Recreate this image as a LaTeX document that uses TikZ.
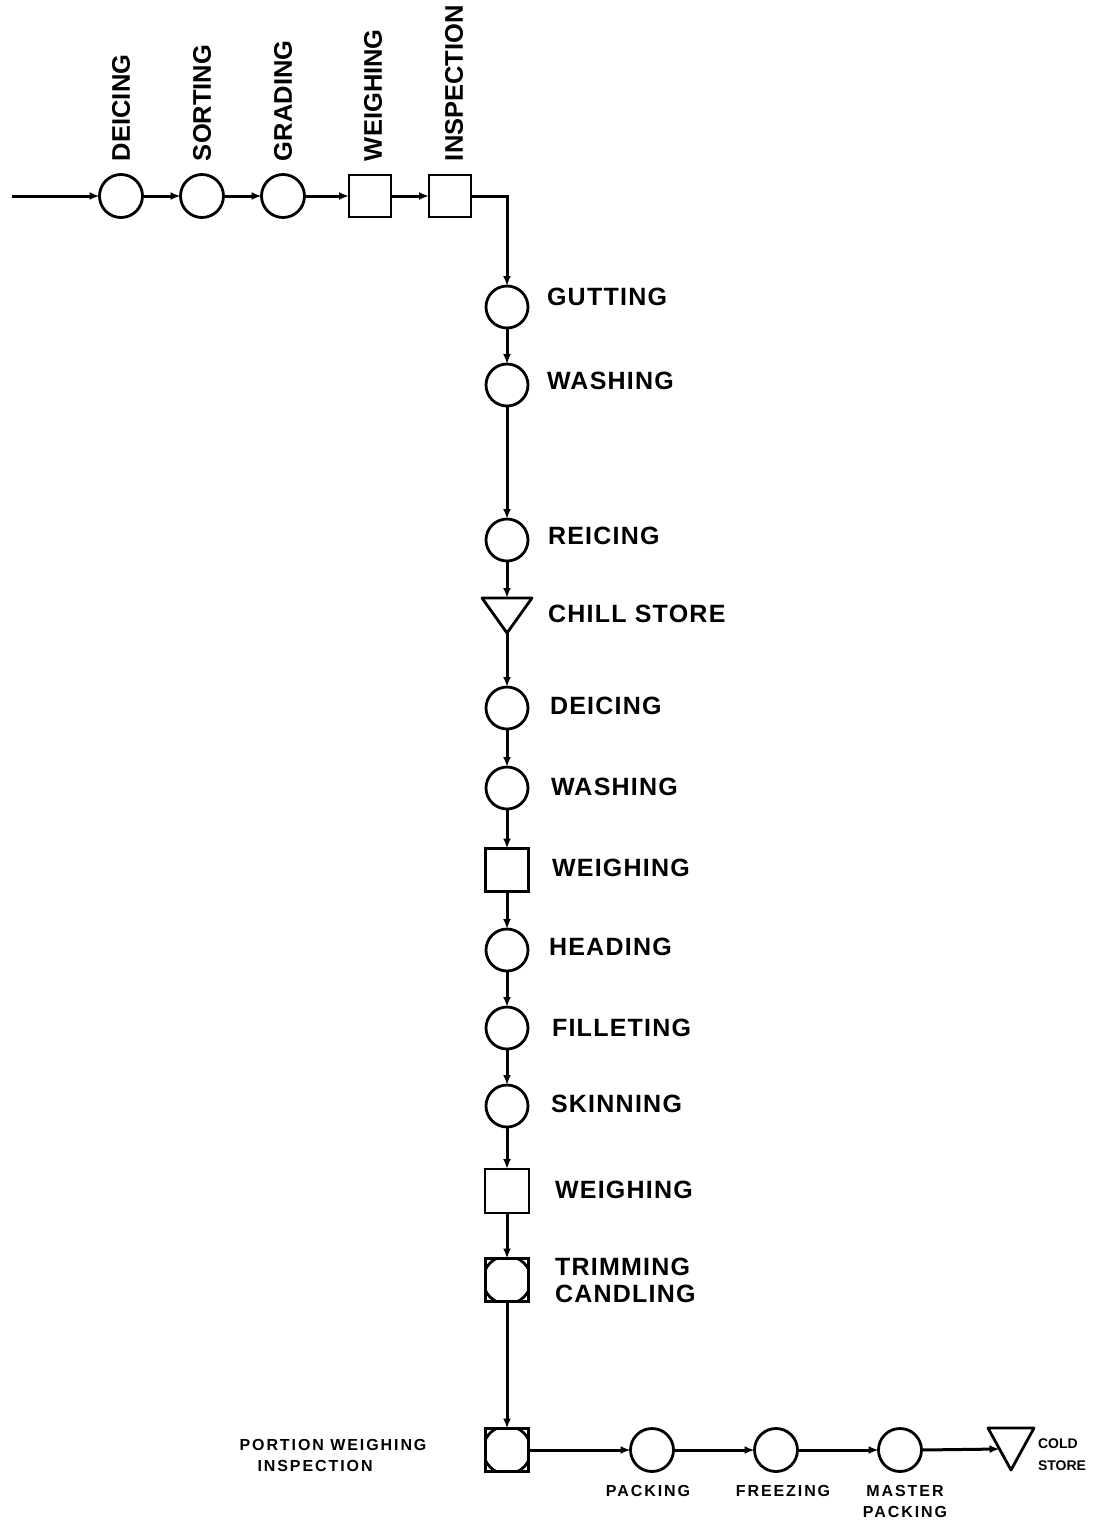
\documentclass[tikz,border=0pt]{standalone}
\usepackage{fontspec}
\setmainfont{Liberation Sans}
\usetikzlibrary{arrows.meta,calc}
\begin{document}
\begin{tikzpicture}[x=1pt,y=-1pt,
  every node/.style={inner sep=0pt,outer sep=0pt},
  proc/.style={circle,draw,line width=2.8pt,minimum size=42pt},
  insp/.style={rectangle,draw,line width=2.8pt,minimum size=42pt},
  combo/.style={rectangle,draw,line width=2.8pt,minimum size=43pt},
  stor/.style={rectangle,minimum width=50pt,minimum height=35pt},
  flow/.style={line width=3pt,-{Latex[length=10pt,width=8pt]}},
  toplab/.style={font=\fontsize{25.5}{27}\selectfont\bfseries,rotate=90,anchor=west},
  lab/.style={font=\fontsize{25}{27}\selectfont\bfseries\addfontfeatures{LetterSpace=5},anchor=west,align=left},
  small/.style={font=\fontsize{16}{21}\selectfont\bfseries\addfontfeatures{LetterSpace=12},align=center},
]
\useasboundingbox (0,0) rectangle (1108,1523);

% top row
\coordinate (start) at (12,196);
\node[proc,minimum size=43pt] (d1) at (121,196) {};
\node[proc,minimum size=43pt] (s1) at (202,196) {};
\node[proc,minimum size=43pt] (g1) at (283,196) {};
\node[insp] (w1) at (370,196) {};
\node[insp] (i1) at (450,196) {};
\node[toplab] at (121,161) {DEICING};
\node[toplab] at (202,161) {SORTING};
\node[toplab] at (283,161) {GRADING};
\node[toplab] at (373,161) {WEIGHING};
\node[toplab] at (454,161) {INSPECTION};

% vertical column
\node[proc] (gut) at (507,307) {};
\node[proc] (wa1) at (507,385) {};
\node[proc] (rei) at (507,540) {};
\node[stor] (chill) at (507,615.5) {};
\draw[line width=2.8pt,line join=round] (chill.north west) -- (chill.north east) -- (chill.south) -- cycle;
\node[proc] (de2) at (507,708) {};
\node[proc] (wa2) at (507,788) {};
\node[insp,minimum size=43pt] (we2) at (507,870) {};
\node[proc] (hea) at (507,950) {};
\node[proc] (fil) at (507,1028) {};
\node[proc] (ski) at (507,1106) {};
\node[insp,minimum size=44pt] (we3) at (507,1191) {};
\node[combo] (trim) at (507,1280) {};
\begin{scope}
  \clip (trim.south west) rectangle (trim.north east);
  \draw[line width=2.8pt] (trim.center) circle (24pt);
\end{scope}
\node[combo] (port) at (507,1450) {};
\begin{scope}
  \clip (port.south west) rectangle (port.north east);
  \draw[line width=2.8pt] (port.center) circle (24pt);
\end{scope}

\node[lab] at (547,297) {GUTTING};
\node[lab] at (547,381) {WASHING};
\node[lab] at (548,536) {REICING};
\node[lab] at (548,614) {CHILL STORE};
\node[lab] at (550,706) {DEICING};
\node[lab] at (551,787) {WASHING};
\node[lab] at (552,868) {WEIGHING};
\node[lab] at (549,947) {HEADING};
\node[lab] at (552,1028) {FILLETING};
\node[lab] at (551,1104) {SKINNING};
\node[lab] at (555,1190) {WEIGHING};
\node[lab] at (555,1280) {TRIMMING\\CANDLING};

% bottom row
\node[proc,minimum size=43pt] (pac) at (652,1450) {};
\node[proc,minimum size=43pt] (fre) at (776,1450) {};
\node[proc,minimum size=43pt] (mas) at (900,1450) {};
\node[stor,minimum width=46pt,minimum height=42pt] (cold) at (1011,1449) {};
\draw[line width=2.8pt,line join=round] (cold.north west) -- (cold.north east) -- (cold.south) -- cycle;
\coordinate (coldin) at ($(cold.north west)!0.5!(cold.south)$);

\node[small,align=left] at (333,1455) {PORTION WEIGHING\\\hspace*{18pt}INSPECTION};
\node[small] at (648,1491) {PACKING};
\node[small] at (783,1491) {FREEZING};
\node[small] at (905,1501) {MASTER\\PACKING};
\node[small,font=\fontsize{14}{22}\selectfont\bfseries,align=left,anchor=west] at (1038,1455) {COLD\\STORE};

% connectors
\draw[flow] (start) -- (d1);
\draw[flow] (d1) -- (s1);
\draw[flow] (s1) -- (g1);
\draw[flow] (g1) -- (w1);
\draw[flow] (w1) -- (i1);
\draw[flow] (i1.east) -| (gut.north);
\draw[flow] (gut) -- (wa1);
\draw[flow] (wa1) -- (rei);
\draw[flow] (rei.south) -- (chill.north);
\draw[flow] (chill.south) -- (de2.north);
\draw[flow] (de2) -- (wa2);
\draw[flow] (wa2.south) -- (we2.north);
\draw[flow] (we2.south) -- (hea.north);
\draw[flow] (hea.south) -- (fil.north);
\draw[flow] (fil.south) -- (ski.north);
\draw[flow] (ski.south) -- (we3.north);
\draw[flow] (we3.south) -- (trim.north);
\draw[flow] (trim.south) -- (port.north);
\draw[flow] (port.east) -- (pac.west);
\draw[flow] (pac) -- (fre);
\draw[flow] (fre) -- (mas);
\draw[flow] (mas.east) -- (coldin);
\end{tikzpicture}
\end{document}
